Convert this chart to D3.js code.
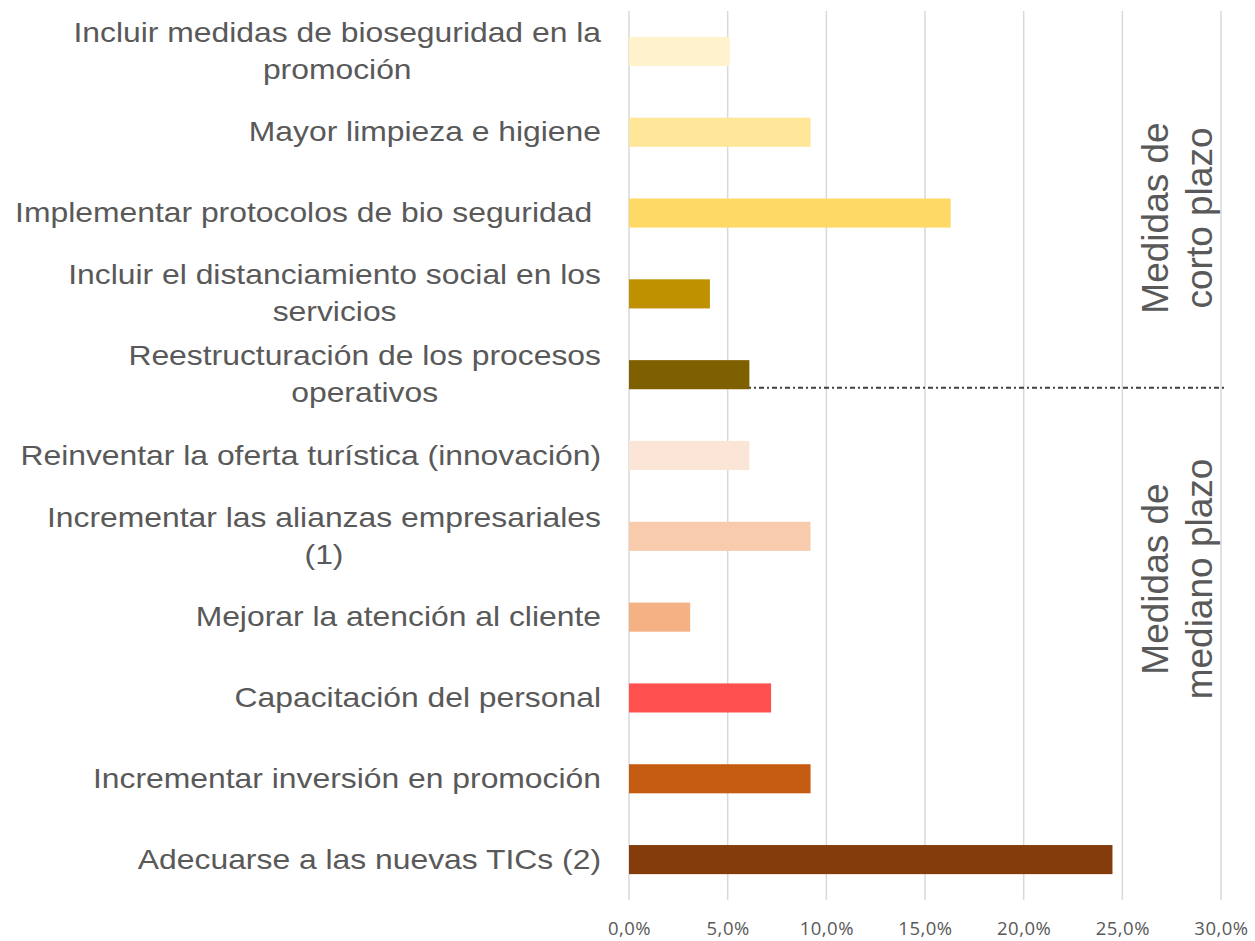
<!DOCTYPE html>
<html>
<head>
<meta charset="utf-8">
<script src="https://cdn.jsdelivr.net/npm/d3@7"></script>
<style>
  body { margin: 0; background: #fff; }
  svg text { white-space: pre; }
</style>
</head>
<body>
<div id="chart"></div>
<script>
// categories top to bottom, "\n" marks a line break in the label
var categories = [
  "Incluir medidas de bioseguridad en la\npromoción",
  "Mayor limpieza e higiene",
  "Implementar protocolos de bio seguridad ",
  "Incluir el distanciamiento social en los\nservicios",
  "Reestructuración de los procesos\noperativos",
  "Reinventar la oferta turística (innovación)",
  "Incrementar las alianzas empresariales\n(1)",
  "Mejorar la atención al cliente",
  "Capacitación del personal",
  "Incrementar inversión en promoción",
  "Adecuarse a las nuevas TICs (2)"
];
var values = [0.051, 0.092, 0.163, 0.041, 0.061, 0.061, 0.092, 0.031, 0.072, 0.092, 0.245];
var barColors = ["#FFF2CC", "#FFE699", "#FFD966", "#BF9000", "#7F6000",
  "#FBE5D6", "#F8CBAD", "#F4B183", "#FF5050", "#C55A11", "#843C0C"];
var xTicks = [0, 0.05, 0.10, 0.15, 0.20, 0.25, 0.30];
var groupLabels = [
  ["Medidas de", "corto plazo"],
  ["Medidas de", "mediano plazo"]
];

var W = 1255, H = 941;
var svg = d3.select("#chart").append("svg")
    .attr("width", W)
    .attr("height", H);

var x = d3.scaleLinear()
    .domain([0, 0.30])
    .range([629, 1221]);

var y = d3.scaleBand()
    .domain(categories)
    .range([11, 900])
    .paddingInner(0.64)
    .paddingOuter(0.32);

var textColor = "#595959";

// gridlines
svg.append("g")
  .selectAll("line")
  .data(xTicks)
  .enter().append("line")
    .attr("x1", function(d) { return x(d); })
    .attr("x2", function(d) { return x(d); })
    .attr("y1", 11)
    .attr("y2", 900)
    .attr("stroke", "#d9d9d9")
    .attr("stroke-width", 1.5);

// separator between the two groups (dash-dot)
var sepY = y(categories[4]) + y.bandwidth() - 1.5;
svg.append("line")
    .attr("x1", x(0))
    .attr("x2", 1226)
    .attr("y1", sepY)
    .attr("y2", sepY)
    .attr("stroke", "#404040")
    .attr("stroke-width", 2)
    .attr("stroke-dasharray", "5,3,2,3");

// bars
svg.append("g")
  .selectAll("rect")
  .data(categories)
  .enter().append("rect")
    .attr("x", x(0))
    .attr("y", function(d) { return y(d); })
    .attr("width", function(d, i) { return x(values[i]) - x(0); })
    .attr("height", y.bandwidth())
    .attr("fill", function(d, i) { return barColors[i]; });

// category labels (block right-aligned, wrapped lines centred)
var lineGap = 37;
var labels = svg.append("g")
  .selectAll("g")
  .data(categories)
  .enter().append("g")
    .attr("transform", function(d) {
      return "translate(601," + (y(d) + y.bandwidth() / 2) + ") scale(1.18,1)";
    });

labels.each(function(d) {
  var lines = d.split("\n");
  var t = d3.select(this).append("text")
      .attr("font-family", "Liberation Sans, Arial, sans-serif")
      .attr("font-size", 27)
      .attr("fill", textColor);
  var spans = lines.map(function(l, k) {
    return t.append("tspan")
      .attr("y", 9 + (k - (lines.length - 1) / 2) * lineGap)
      .text(l);
  });
  if (lines.length == 1) {
    t.attr("text-anchor", "end");
    spans[0].attr("x", 0);
  } else {
    var maxW = d3.max(spans, function(s) { return s.node().getComputedTextLength(); });
    t.attr("text-anchor", "middle");
    spans.forEach(function(s) { s.attr("x", -maxW / 2); });
  }
});

// x axis
var locale = d3.formatLocale({decimal: ",", thousands: ".", grouping: [3], currency: ["", "€"]});
var xAxis = d3.axisBottom(x)
    .tickValues(xTicks)
    .tickSize(0)
    .tickPadding(0)
    .tickFormat(locale.format(".1%"));

var ax = svg.append("g")
    .attr("transform", "translate(0,900)")
    .call(xAxis);
ax.select(".domain").remove();
ax.selectAll("text")
    .attr("y", 35)
    .attr("dy", 0)
    .attr("font-family", "Open Sans, sans-serif")
    .attr("font-size", 18.5)
    .attr("letter-spacing", 0.5)
    .attr("fill", textColor);

// group labels on the right
var groupCenters = [218, 579];
groupLabels.forEach(function(g, i) {
  var t = svg.append("text")
      .attr("transform", "translate(1168," + groupCenters[i] + ") rotate(-90)")
      .attr("text-anchor", "middle")
      .attr("font-family", "Liberation Sans, Arial, sans-serif")
      .attr("font-size", 37)
      .attr("fill", textColor);
  g.forEach(function(l, k) {
    t.append("tspan")
      .attr("x", 0)
      .attr("y", k * 44)
      .text(l);
  });
});
</script>
</body>
</html>
